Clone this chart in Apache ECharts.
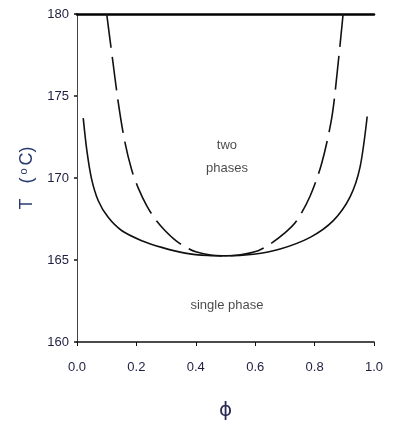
<!DOCTYPE html>
<html>
<head>
<meta charset="utf-8">
<script src="https://cdn.jsdelivr.net/npm/echarts@6/dist/echarts.min.js"></script>
<style>
html,body{margin:0;padding:0;background:#fff;}
#chart{width:397px;height:428px;}
</style>
</head>
<body>
<div id="chart"></div>
<script>
// Binodal (solid) curve: volume fraction and temperature
const solidPhi = [0.021, 0.033, 0.049, 0.072, 0.105, 0.150, 0.218, 0.285, 0.364, 0.441, 0.500, 0.594, 0.684, 0.785, 0.863, 0.919, 0.953, 0.977];
const solidT   = [173.65, 171.7, 169.95, 168.6, 167.6, 166.8, 166.18, 165.77, 165.42, 165.27, 165.25, 165.35, 165.67, 166.38, 167.4, 168.83, 170.66, 173.75];
// Spinodal (dashed) curve
const dashPhi = [0.100, 0.120, 0.139, 0.160, 0.184, 0.206, 0.235, 0.263, 0.296, 0.335, 0.375, 0.400, 0.450, 0.500, 0.550, 0.610, 0.650, 0.700, 0.740, 0.785, 0.824, 0.858, 0.877, 0.896];
const dashT   = [180.0, 177.2, 174.6, 172.3, 170.5, 169.4, 168.3, 167.5, 166.8, 166.15, 165.7, 165.5, 165.3, 165.25, 165.32, 165.57, 165.97, 166.65, 167.4, 168.9, 170.9, 173.7, 176.6, 180.0];
// Axis ticks
const xTicks = [0.0, 0.2, 0.4, 0.6, 0.8, 1.0];
const yTicks = [160, 165, 170, 175, 180];
// Region labels
const regionLabels = [
  { text: 'two\nphases', phi: 0.505, T: 171.3 },
  { text: 'single phase', phi: 0.505, T: 162.25 }
];

const pairs = (xs, ys) => xs.map((x, i) => [x, ys[i]]);
const txtColor = '#1e1e40';
const fontFam = '"Liberation Sans", Arial, sans-serif';

const chart = echarts.init(document.getElementById('chart'), null, { renderer: 'canvas' });
chart.setOption({
  animation: false,
  backgroundColor: '#fff',
  grid: { left: 77, top: 14, right: 23, bottom: 86, containLabel: false },
  xAxis: [{
    type: 'value', min: xTicks[0], max: xTicks[xTicks.length - 1], interval: 0.2,
    position: 'bottom',
    name: 'ϕ', nameLocation: 'middle', nameGap: 59,
    nameTextStyle: { fontSize: 20, color: '#2a2a55', fontFamily: '"DejaVu Sans", sans-serif' },
    axisLine: { lineStyle: { color: '#111', width: 1.5 } },
    axisTick: { show: true, inside: false, length: 4, lineStyle: { color: '#111', width: 1 } },
    axisLabel: { margin: 19, fontSize: 13, color: txtColor, fontFamily: fontFam, formatter: v => v.toFixed(1) },
    splitLine: { show: false }
  }, {
    type: 'value', min: xTicks[0], max: xTicks[xTicks.length - 1],
    position: 'top',
    axisLine: { show: true, lineStyle: { color: '#000', width: 2.5 } },
    axisTick: { show: false }, axisLabel: { show: false }, splitLine: { show: false }
  }],
  yAxis: [{
    type: 'value', min: yTicks[0], max: yTicks[yTicks.length - 1], interval: 5,
    position: 'left',
    name: '{a|T}{s| }{a|(}{o|o}{a|C)}', nameLocation: 'middle', nameGap: 40, nameRotate: 90,
    nameTextStyle: {
      color: '#2a3a70', fontFamily: fontFam,
      rich: {
        a: { fontSize: 18, color: '#2a3a70', fontFamily: fontFam, padding: [0, 2, 0, 2] },
        s: { fontSize: 18, padding: [0, 3, 0, 3] },
        o: { fontSize: 11, color: '#2a3a70', fontFamily: fontFam, verticalAlign: 'top', padding: [0, 1, 7, 1] }
      }
    },
    axisLine: { show: true, lineStyle: { color: '#777', width: 1 } },
    axisTick: { show: true, inside: false, length: 3, lineStyle: { color: '#111', width: 1.5 } },
    axisLabel: { margin: 8, fontSize: 13, color: txtColor, fontFamily: fontFam },
    splitLine: { show: false }
  }, {
    type: 'value', min: yTicks[0], max: yTicks[yTicks.length - 1],
    position: 'right',
    axisLine: { show: true, lineStyle: { color: '#444', width: 1 } },
    axisTick: { show: false }, axisLabel: { show: false }, splitLine: { show: false }
  }],
  series: [{
    type: 'line', name: 'binodal', data: pairs(solidPhi, solidT),
    smooth: 0.3, symbol: 'none', clip: true,
    lineStyle: { color: '#111', width: 1.6 }
  }, {
    type: 'line', name: 'spinodal', data: pairs(dashPhi, dashT),
    smooth: 0.3, symbol: 'none', clip: true,
    lineStyle: { color: '#111', width: 1.6, type: [34, 9] }
  }, {
    type: 'scatter', name: 'labels', symbolSize: 0, silent: true,
    data: regionLabels.map(r => ({ value: [r.phi, r.T], label: { formatter: r.text } })),
    label: {
      show: true, position: 'inside', fontSize: 13, lineHeight: 23,
      color: '#1a1a1a', fontFamily: fontFam, align: 'center'
    }
  }]
});
</script>
</body>
</html>
